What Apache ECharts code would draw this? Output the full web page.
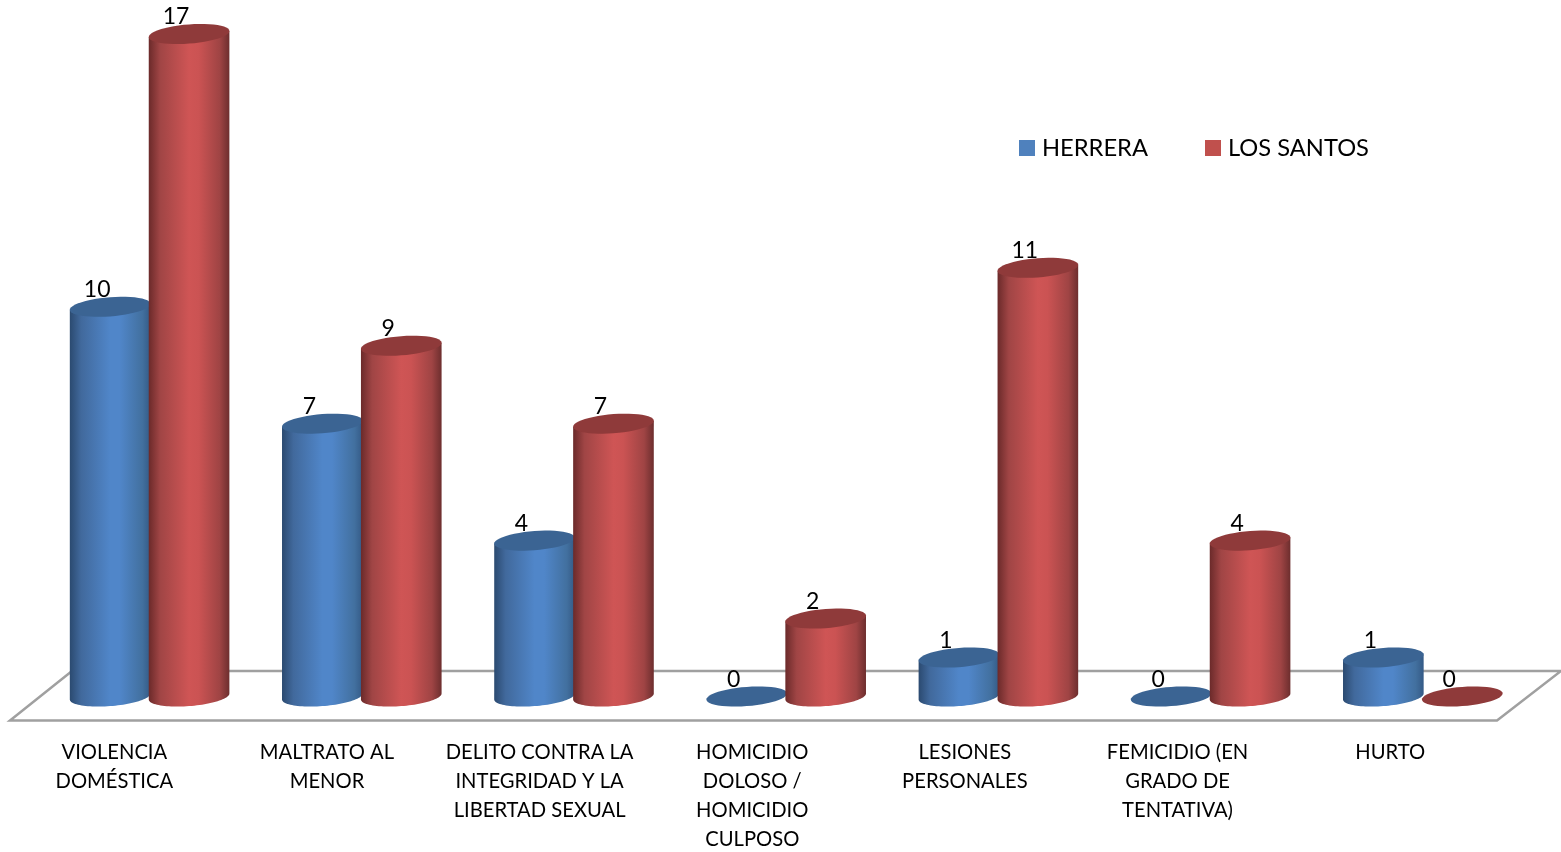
<!DOCTYPE html>
<html>
<head>
<meta charset="utf-8">
<style>html,body{margin:0;padding:0;background:#fff}#c{width:1561px;height:852px}</style>
<script src="https://cdn.jsdelivr.net/npm/echarts@6/dist/echarts.min.js"></script>
</head>
<body>
<div id="c"></div>
<script>
const categories = [
  'VIOLENCIA\nDOMÉSTICA',
  'MALTRATO AL\nMENOR',
  'DELITO CONTRA LA\nINTEGRIDAD Y LA\nLIBERTAD SEXUAL',
  'HOMICIDIO\nDOLOSO /\nHOMICIDIO\nCULPOSO',
  'LESIONES\nPERSONALES',
  'FEMICIDIO (EN\nGRADO DE\nTENTATIVA)',
  'HURTO'
];
const herrera = [10, 7, 4, 0, 1, 0, 1];
const losSantos = [17, 9, 7, 2, 11, 4, 0];
const FONT = 'Lato, Carlito, "Open Sans", sans-serif';

function cylinder(side, colors) {
  return function (params, api) {
    const p = api.coord([api.value(0), api.value(1)]);
    const base = api.coord([api.value(0), 0]);
    const band = api.size([1, 0])[0];
    const a = band * 0.19, b = 9.6, s = 3;
    const cx = p[0] + side * band * 0.186;
    const ring = (cy, from, to) => {
      const pts = [];
      for (let i = 0; i <= 48; i++) {
        const t = from + (to - from) * i / 48;
        pts.push([cx + a * Math.cos(t), cy + b * Math.sin(t) - s * Math.cos(t)]);
      }
      return pts;
    };
    const children = [];
    if (api.value(1) > 0) {
      const body = ring(base[1], 0, Math.PI).concat([
        [cx - a, p[1] + s],
        [cx + a, p[1] - s]
      ]);
      children.push({
        type: 'polygon',
        shape: { points: body },
        style: {
          fill: new echarts.graphic.LinearGradient(0, 0, 1, 0, colors.stops)
        }
      });
    }
    children.push({
      type: 'polygon',
      shape: { points: ring(p[1], 0, Math.PI * 2) },
      style: { fill: colors.top }
    });
    children.push({
      type: 'text',
      z2: 50,
      style: {
        text: String(api.value(1)),
        x: cx - 13,
        y: p[1] - 17,
        align: 'center',
        verticalAlign: 'middle',
        fill: '#000',
        font: '23px ' + FONT
      }
    });
    return { type: 'group', children };
  };
}

const blueStyle = {
  top: '#3b6493',
  stops: [
    { offset: 0, color: '#2b4a70' },
    { offset: 0.14, color: '#41699c' },
    { offset: 0.5, color: '#5086c9' },
    { offset: 0.62, color: '#5086c9' },
    { offset: 0.9, color: '#42709f' },
    { offset: 1, color: '#345a86' }
  ]
};
const redStyle = {
  top: '#8f3a3a',
  stops: [
    { offset: 0, color: '#6b2a2a' },
    { offset: 0.14, color: '#a04545' },
    { offset: 0.5, color: '#cf5555' },
    { offset: 0.62, color: '#cb5353' },
    { offset: 0.88, color: '#9f4444' },
    { offset: 1, color: '#6d2e2e' }
  ]
};

const chart = echarts.init(document.getElementById('c'), null, { renderer: 'canvas' });
chart.setOption({
  animation: false,
  backgroundColor: '#fff',
  graphic: {
    elements: [{
      type: 'polygon',
      z: 0,
      shape: { points: [[10, 720.5], [1497, 720.5], [1561, 671], [72, 671]] },
      style: { fill: '#fff', stroke: '#a0a0a0', lineWidth: 2.5 }
    }]
  },
  legend: {
    left: 1014,
    top: 131,
    icon: 'rect',
    itemWidth: 16,
    itemHeight: 16,
    itemGap: 57,
    selectedMode: false,
    textStyle: { fontFamily: FONT, fontSize: 23.7, color: '#000', padding: [0, 0, 0, 2] },
    data: ['HERRERA', 'LOS SANTOS']
  },
  grid: [
    { left: 8, width: 1488.5, top: 34, bottom: 132, outerBoundsMode: 'none' },
    { left: 43.5, width: 1485.4, top: 34, bottom: 155.5, outerBoundsMode: 'none' }
  ],
  xAxis: [
    {
      type: 'category', gridIndex: 0, data: categories,
      axisLine: { show: false }, axisTick: { show: false }, splitLine: { show: false },
      axisLabel: {
        interval: 0, margin: 18, color: '#000', fontFamily: FONT, fontSize: 20.2,
        lineHeight: 29, verticalAlign: 'top', hideOverlap: false
      }
    },
    {
      type: 'category', gridIndex: 1, data: categories, show: false
    }
  ],
  yAxis: [
    { type: 'value', gridIndex: 0, show: false, min: 0, max: 17, splitLine: { show: false } },
    { type: 'value', gridIndex: 1, show: false, min: 0, max: 17, splitLine: { show: false } }
  ],
  series: [
    {
      name: 'HERRERA', type: 'custom', xAxisIndex: 1, yAxisIndex: 1, clip: false, z: 3,
      itemStyle: { color: '#4f81bd' },
      encode: { x: 0, y: 1 },
      renderItem: cylinder(-1, blueStyle),
      data: herrera.map((v, i) => [i, v])
    },
    {
      name: 'LOS SANTOS', type: 'custom', xAxisIndex: 1, yAxisIndex: 1, clip: false, z: 4,
      itemStyle: { color: '#c0504d' },
      encode: { x: 0, y: 1 },
      renderItem: cylinder(1, redStyle),
      data: losSantos.map((v, i) => [i, v])
    }
  ]
});
</script>
</body>
</html>
